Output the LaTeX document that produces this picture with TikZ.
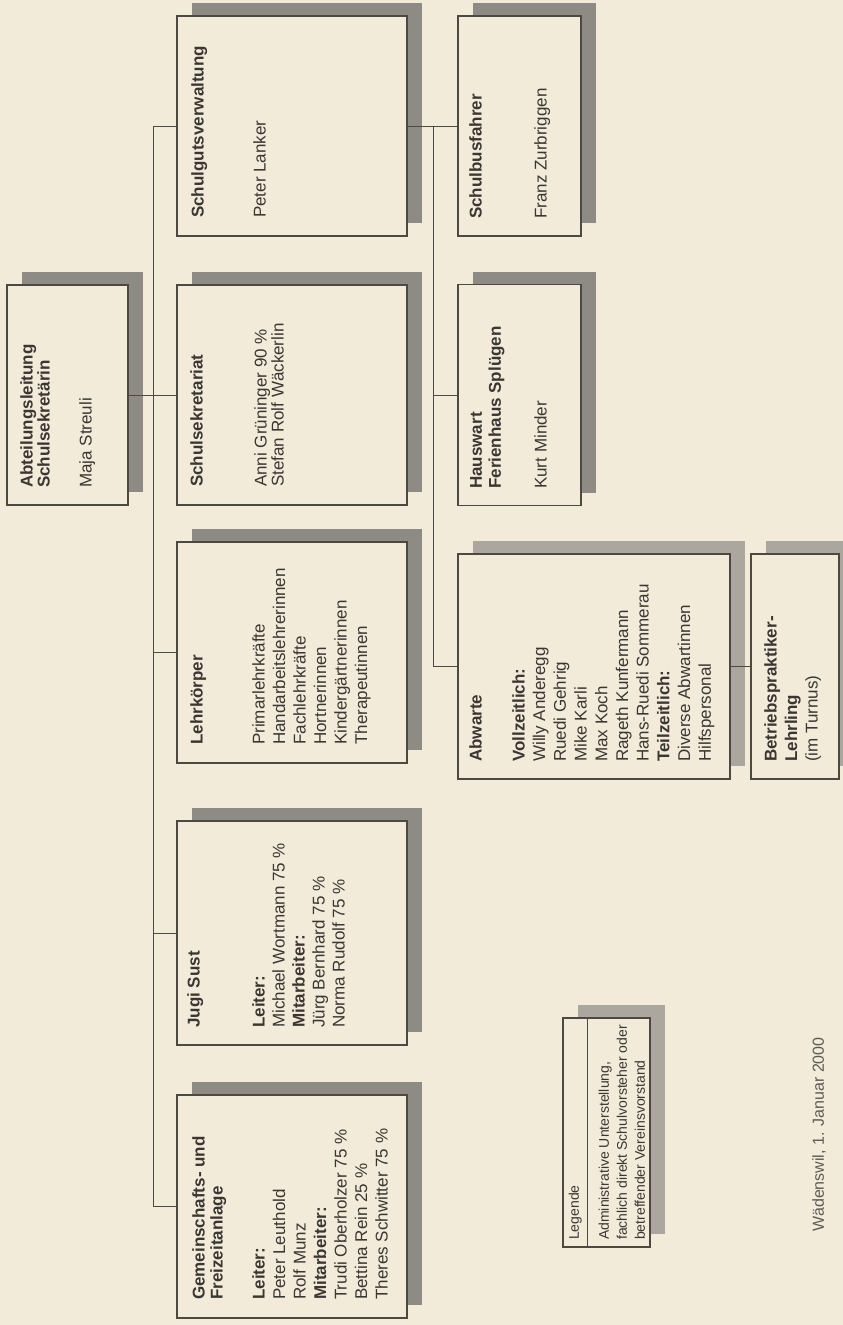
\documentclass[tikz,border=0pt]{standalone}
\usepackage{fontspec}
\setmainfont{Liberation Sans}
\usetikzlibrary{shadows}
\definecolor{bg}{HTML}{F3EBD9}
\definecolor{ink}{HTML}{3A3632}
\definecolor{edge}{HTML}{4E4843}
\definecolor{shd}{HTML}{8E8A84}
\definecolor{shdl}{HTML}{ABA69E}
\definecolor{datecol}{HTML}{5E5954}
\begin{document}
\begin{tikzpicture}[x=1pt, y=-1pt,
  box/.style={draw=edge, line width=1.1pt, fill=bg, inner sep=0pt,
    drop shadow={shadow xshift=15pt, shadow yshift=13pt, fill=shd, opacity=1}},
  lbox/.style={draw=edge, line width=1.1pt, fill=bg, inner sep=0pt,
    drop shadow={shadow xshift=15pt, shadow yshift=13pt, fill=shdl, opacity=1}},
  txt/.style={rotate=90, anchor=north west, inner sep=0pt, align=left, text=ink,
    font=\fontsize{17}{20.5}\selectfont},
  conn/.style={draw=edge, line width=0.9pt}]
\useasboundingbox (0,0) rectangle (843,1325);
\fill[bg] (0,0) rectangle (843,1325);

% boxes
\node[box, minimum width=121pt, minimum height=220pt] (abt) at (67.5,395) {};
\node[box, minimum width=230pt, minimum height=220pt] (sgv) at (292,126) {};
\node[box, minimum width=230pt, minimum height=220pt] (ssk) at (292,395) {};
\node[box, minimum width=230pt, minimum height=221pt] (lk) at (292,652.5) {};
\node[box, minimum width=230pt, minimum height=224pt] (jugi) at (292,933) {};
\node[box, minimum width=230pt, minimum height=223pt] (gfz) at (292,1206.5) {};
\node[box, minimum width=123pt, minimum height=220pt] (sbf) at (519.5,126) {};
\node[box, minimum width=123pt, minimum height=221pt] (hw) at (519.5,395) {};
\node[lbox, minimum width=272pt, minimum height=225pt] (abw) at (594,666.5) {};
\node[lbox, minimum width=88pt, minimum height=225pt] (bpl) at (795,666.5) {};
\node[lbox, minimum width=87pt, minimum height=229pt] (leg) at (606.5,1132.5) {};

% connectors
\coordinate (tk) at (153,126);
\coordinate (tk2) at (433,126);
\draw[conn] (sgv.west) -- (tk) |- (gfz.west);
\draw[conn] (abt.east) -- (ssk.west);
\draw[conn] (lk.west) -- (lk.west -| tk);
\draw[conn] (jugi.west) -- (jugi.west -| tk);
\draw[conn] (sgv.east) -- (sbf.west);
\draw[conn] (tk2) |- (abw.west);
\draw[conn] (hw.west) -- (hw.west -| tk2);
\draw[conn] (abw.east) -- (bpl.west);
\draw[conn] ([xshift=25pt]leg.north west) -- ([xshift=25pt]leg.south west);

% texts
\node[txt, font=\fontsize{17}{17}\selectfont\bfseries] (abt-t) at (20,488) {Abteilungsleitung\\Schulsekretärin};
\node[txt] (abt-b) at (79,488) {Maja Streuli};

\node[txt, font=\fontsize{17}{20.5}\selectfont\bfseries] (sgv-t) at (191,218) {Schulgutsverwaltung};
\node[txt] (sgv-b) at (253,218) {Peter Lanker};

\node[txt, font=\fontsize{17}{20.5}\selectfont\bfseries] (ssk-t) at (190,487) {Schulsekretariat};
\node[txt, font=\fontsize{17}{17}\selectfont] (ssk-b) at (254,487) {Anni Grüninger 90 \%\\Stefan Rolf Wäckerlin};

\node[txt, font=\fontsize{17}{20.5}\selectfont\bfseries] (lk-t) at (190,745) {Lehrkörper};
\node[txt] (lk-b) at (252,745) {Primarlehrkräfte\\Handarbeitslehrerinnen\\Fachlehrkräfte\\Hortnerinnen\\Kindergärtnerinnen\\Therapeutinnen};

\node[txt, font=\fontsize{17}{20.5}\selectfont\bfseries] (jugi-t) at (187,1028) {Jugi Sust};
\node[txt, font=\fontsize{17}{20}\selectfont] (jugi-b) at (252,1028) {\textbf{Leiter:}\\Michael Wortmann 75 \%\\\textbf{Mitarbeiter:}\\Jürg Bernhard 75 \%\\Norma Rudolf 75 \%};

\node[txt, font=\fontsize{17}{18}\selectfont\bfseries] (gfz-t) at (192,1300) {Gemeinschafts- und\\Freizeitanlage};
\node[txt] (gfz-b) at (252,1300) {\textbf{Leiter:}\\Peter Leuthold\\Rolf Munz\\\textbf{Mitarbeiter:}\\Trudi Oberholzer 75 \%\\Bettina Rein 25 \%\\Theres Schwitter 75 \%};

\node[txt, font=\fontsize{17}{20.5}\selectfont\bfseries] (sbf-t) at (469,219) {Schulbusfahrer};
\node[txt] (sbf-b) at (534,219) {Franz Zurbriggen};

\node[txt, font=\fontsize{17}{19}\selectfont\bfseries] (hw-t) at (470,489) {Hauswart\\Ferienhaus Splügen};
\node[txt] (hw-b) at (534,489) {Kurt Minder};

\node[txt, font=\fontsize{17}{20.5}\selectfont\bfseries] (abw-t) at (469,762) {Abwarte};
\node[txt, font=\fontsize{17}{20.7}\selectfont] (abw-b) at (512,762) {\textbf{Vollzeitlich:}\\Willy Anderegg\\Ruedi Gehrig\\Mike Karli\\Max Koch\\Rageth Kunfermann\\Hans-Ruedi Sommerau\\\textbf{Teilzeitlich:}\\Diverse Abwartinnen\\Hilfspersonal};

\node[txt] (bpl-t) at (764,762) {\textbf{Betriebspraktiker-}\\\textbf{Lehrling}\\(im Turnus)};

\node[txt, font=\fontsize{14}{18}\selectfont] (leg-t) at (568.4,1240) {Legende};
\node[txt, font=\fontsize{14}{18}\selectfont] (leg-b) at (598.4,1240) {Administrative Unterstellung,\\fachlich direkt Schulvorsteher oder\\betreffender Vereinsvorstand};

\node[txt, text=datecol, font=\fontsize{16}{19}\selectfont] (date) at (812,1232) {Wädenswil, 1. Januar 2000};
\end{tikzpicture}
\end{document}
